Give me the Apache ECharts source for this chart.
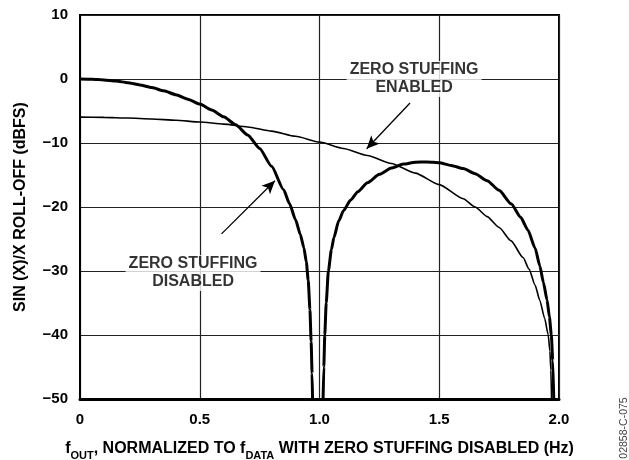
<!DOCTYPE html>
<html>
<head>
<meta charset="utf-8">
<script src="https://cdn.jsdelivr.net/npm/echarts@6/dist/echarts.min.js"></script>
<style>
  html, body { margin: 0; padding: 0; background: #fff; }
  #chart { width: 629px; height: 460px; }
</style>
</head>
<body>
<div id="chart"></div>
<script>
// Sin(x)/x roll-off, zero stuffing disabled: main lobe (0 .. first null)
const disabledMainLobe = [
  [0, 0], [0.05, -0.04], [0.1, -0.14], [0.15, -0.32], [0.2, -0.58],
  [0.25, -0.92], [0.3, -1.34], [0.35, -1.85], [0.4, -2.45], [0.45, -3.15],
  [0.5, -3.92], [0.55, -4.85], [0.6, -5.9], [0.65, -7.15], [0.7, -8.75],
  [0.75, -10.85], [0.8, -13.65], [0.85, -17.3], [0.875, -19.5], [0.9, -22.0],
  [0.92, -24.3], [0.935, -26.4], [0.945, -28.6], [0.953, -31.5], [0.96, -36],
  [0.965, -41], [0.969, -46], [0.971, -50]
];
// Zero stuffing disabled: second lobe (first null .. second null)
const disabledSideLobe = [
  [1.015, -50], [1.018, -45], [1.022, -40], [1.028, -35], [1.037, -30],
  [1.05, -26.6], [1.06, -24.8], [1.08, -22.2], [1.1, -20.6], [1.13, -18.9],
  [1.16, -17.6], [1.2, -16.2], [1.25, -14.9], [1.3, -13.9], [1.35, -13.3],
  [1.4, -13.0], [1.45, -12.95], [1.5, -13.1], [1.55, -13.5], [1.6, -14.0],
  [1.65, -14.8], [1.7, -15.9], [1.75, -17.4], [1.8, -19.5], [1.84, -21.6],
  [1.87, -23.6], [1.9, -26.4], [1.92, -29.2], [1.935, -31.8], [1.95, -34.5],
  [1.96, -37.2], [1.968, -40], [1.974, -44], [1.978, -50]
];
// Zero stuffing enabled
const enabledCurve = [
  [0, -5.95], [0.1, -6.0], [0.2, -6.1], [0.3, -6.25], [0.4, -6.45],
  [0.5, -6.72], [0.6, -7.05], [0.7, -7.5], [0.8, -8.15], [0.9, -8.95],
  [1.0, -9.85], [1.1, -10.85], [1.2, -11.95], [1.3, -13.2], [1.4, -14.7],
  [1.5, -16.5], [1.6, -18.7], [1.65, -20.0], [1.7, -21.5], [1.75, -23.2],
  [1.8, -25.3], [1.85, -27.9], [1.875, -29.7], [1.9, -32.2], [1.92, -34.6],
  [1.94, -37.4], [1.955, -40.0], [1.962, -42.5], [1.966, -45.5], [1.969, -50]
];

// Axis tick labels
const xTicks = ['0', '0.5', '1.0', '1.5', '2.0'];
const yTicks = ['10', '0', '\u221210', '\u221220', '\u221230', '\u221240', '\u221250'];

// Callout texts, their anchor points and arrows (data units)
const calloutEnabled = { text: 'ZERO STUFFING\nENABLED', at: [1.395, 0] };
const calloutDisabled = { text: 'ZERO STUFFING\nDISABLED', at: [0.472, -30.3] };
const arrowEnabled = [[1.378, -3.75], [1.197, -10.9]];
const arrowDisabled = [[0.591, -24.2], [0.814, -15.9]];

const FONT = '"Liberation Sans", Arial, sans-serif';

const chart = echarts.init(document.getElementById('chart'), null, { renderer: 'canvas' });

const lineCommon = {
  type: 'line', showSymbol: false, clip: true,
  smooth: 0.2, smoothMonotone: 'x', z: 3
};

chart.setOption({
  animation: false,
  backgroundColor: '#fff',
  grid: {
    left: 80, right: 70, top: 15, bottom: 61,
    containLabel: false, outerBoundsMode: 'none',
    show: true, borderColor: '#000', borderWidth: 2, backgroundColor: 'transparent'
  },
  xAxis: {
    type: 'value', min: 0, max: 2, interval: 0.5,
    axisLine: { show: true, onZero: false, lineStyle: { color: '#000', width: 3 } },
    axisTick: { show: false },
    splitLine: { show: true, lineStyle: { color: '#222', width: 1.2 } },
    axisLabel: {
      margin: 13, color: '#000', fontFamily: FONT, fontWeight: 'bold', fontSize: 15,
      formatter: v => xTicks[Math.round(v / 0.5)]
    },
    name: '{b|f}{s|OUT}{b|, NORMALIZED TO f}{s|DATA}{b| WITH ZERO STUFFING DISABLED (Hz)}',
    nameLocation: 'middle',
    nameGap: 42,
    nameTextStyle: {
      rich: {
        b: { fontFamily: FONT, fontWeight: 'bold', fontSize: 16, color: '#000', verticalAlign: 'top', lineHeight: 20 },
        s: { fontFamily: FONT, fontWeight: 'bold', fontSize: 11, color: '#000', verticalAlign: 'bottom', lineHeight: 20 }
      }
    }
  },
  yAxis: {
    type: 'value', min: -50, max: 10, interval: 10,
    axisLine: { show: true, onZero: false, lineStyle: { color: '#000', width: 2 } },
    axisTick: { show: false },
    splitLine: { show: true, lineStyle: { color: '#222', width: 1.2 } },
    axisLabel: {
      margin: 12, color: '#000', fontFamily: FONT, fontWeight: 'bold', fontSize: 15,
      formatter: v => yTicks[Math.round((10 - v) / 10)]
    },
    name: 'SIN (X)/X ROLL-OFF (dBFS)',
    nameLocation: 'middle',
    nameGap: 51,
    nameRotate: 90,
    nameTextStyle: { fontFamily: FONT, fontWeight: 'bold', fontSize: 16, color: '#000' }
  },
  series: [
    Object.assign({ name: 'disabled-main', data: disabledMainLobe, lineStyle: { color: '#000', width: 3 } }, lineCommon),
    Object.assign({ name: 'disabled-side', data: disabledSideLobe, lineStyle: { color: '#000', width: 3 } }, lineCommon),
    Object.assign({ name: 'enabled', data: enabledCurve, lineStyle: { color: '#000', width: 1.6 } }, lineCommon),
    {
      name: 'callouts', type: 'scatter', symbolSize: 1, z: 5,
      itemStyle: { color: 'rgba(0,0,0,0)' },
      data: [
        { value: calloutEnabled.at, text: calloutEnabled.text },
        { value: calloutDisabled.at, text: calloutDisabled.text }
      ],
      label: {
        show: true,
        position: 'inside',
        formatter: p => p.data.text,
        color: '#000',
        fontFamily: FONT,
        fontWeight: 'bold',
        fontSize: 16,
        lineHeight: 18,
        align: 'center',
        verticalAlign: 'middle',
        backgroundColor: '#fff',
        padding: [0, 3, 0, 3]
      },
      markLine: {
        silent: true,
        symbol: ['none', 'arrow'],
        symbolSize: [9, 13],
        label: { show: false },
        lineStyle: { color: '#000', width: 1.3, type: 'solid' },
        data: [
          [{ coord: arrowEnabled[0] }, { coord: arrowEnabled[1] }],
          [{ coord: arrowDisabled[0] }, { coord: arrowDisabled[1] }]
        ]
      }
    }
  ],
  graphic: [
    {
      type: 'text', x: 624.5, y: 428, rotation: Math.PI / 2,
      style: {
        text: '02858-C-075', fontFamily: FONT, fontSize: 10.5, fill: '#444',
        align: 'center', verticalAlign: 'middle'
      }
    }
  ]
});
</script>
</body>
</html>
